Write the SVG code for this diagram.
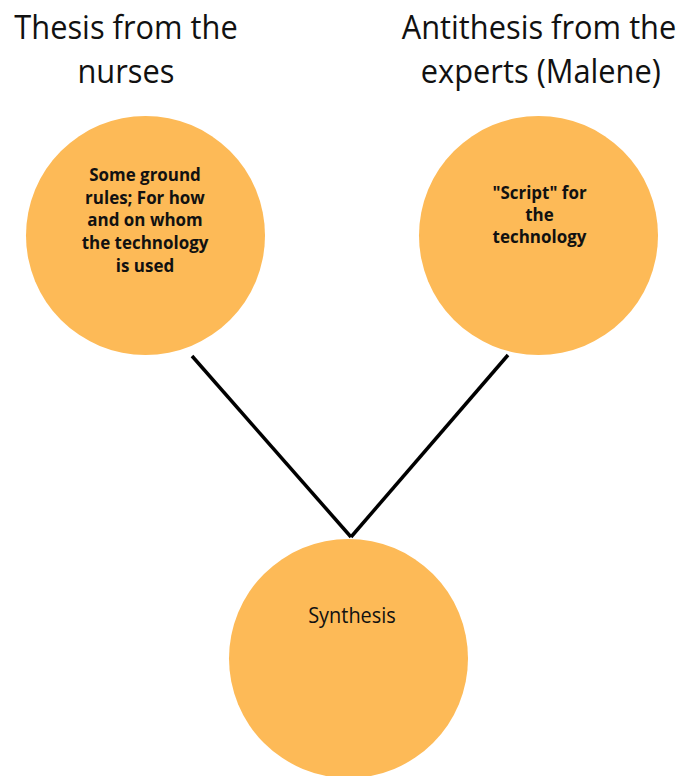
<svg xmlns="http://www.w3.org/2000/svg" width="682" height="776" viewBox="0 0 682 776">
  <style>
    .node { fill: #FDBA57; }
    .title { font-family: "Open Sans", "Liberation Sans", sans-serif; font-size: 33.5px; fill: #111111; text-anchor: middle; }
    .label { font-family: "Open Sans", "Liberation Sans", sans-serif; font-size: 17.5px; font-weight: bold; fill: #111111; text-anchor: middle; }
    .plain { font-family: "Open Sans", "Liberation Sans", sans-serif; font-size: 21px; fill: #111111; text-anchor: middle; }
    .edge { stroke: #000000; stroke-width: 3.5; fill: none; }
  </style>
  <rect width="682" height="776" fill="#ffffff"/>

  <!-- column headings (slightly narrowed lettering) -->
  <g id="heading-thesis" transform="translate(126 0) scale(0.92 1)">
    <text class="title" x="0" y="39.5">Thesis from the</text>
    <text class="title" x="0" y="83.5">nurses</text>
  </g>
  <g id="heading-antithesis" transform="translate(539 0) scale(0.92 1)">
    <text class="title" x="0" y="39.5">Antithesis from the</text>
    <text class="title" x="2" y="83.5">experts (Malene)</text>
  </g>

  <!-- connectors -->
  <g id="connectors">
    <line class="edge" x1="192" y1="356" x2="351" y2="537"/>
    <line class="edge" x1="508" y1="355" x2="351" y2="537"/>
  </g>

  <!-- nodes -->
  <g id="thesis">
    <circle class="node" cx="145.5" cy="235.5" r="119.5"/>
    <g transform="translate(145 0) scale(0.97 1)">
      <text class="label" x="0" y="181">Some ground</text>
      <text class="label" x="0" y="204">rules; For how</text>
      <text class="label" x="0" y="226.5">and on whom</text>
      <text class="label" x="0" y="249">the technology</text>
      <text class="label" x="0" y="272">is used</text>
    </g>
  </g>
  <g id="antithesis">
    <circle class="node" cx="538.5" cy="235.5" r="119.5"/>
    <g transform="translate(539.5 0) scale(0.97 1)">
      <text class="label" x="0" y="199">"Script" for</text>
      <text class="label" x="0" y="221">the</text>
      <text class="label" x="0" y="243">technology</text>
    </g>
  </g>
  <g id="synthesis">
    <circle class="node" cx="348.5" cy="658.5" r="119.5"/>
    <text class="plain" transform="translate(352 0) scale(0.95 1)" x="0" y="623.5">Synthesis</text>
  </g>
</svg>
